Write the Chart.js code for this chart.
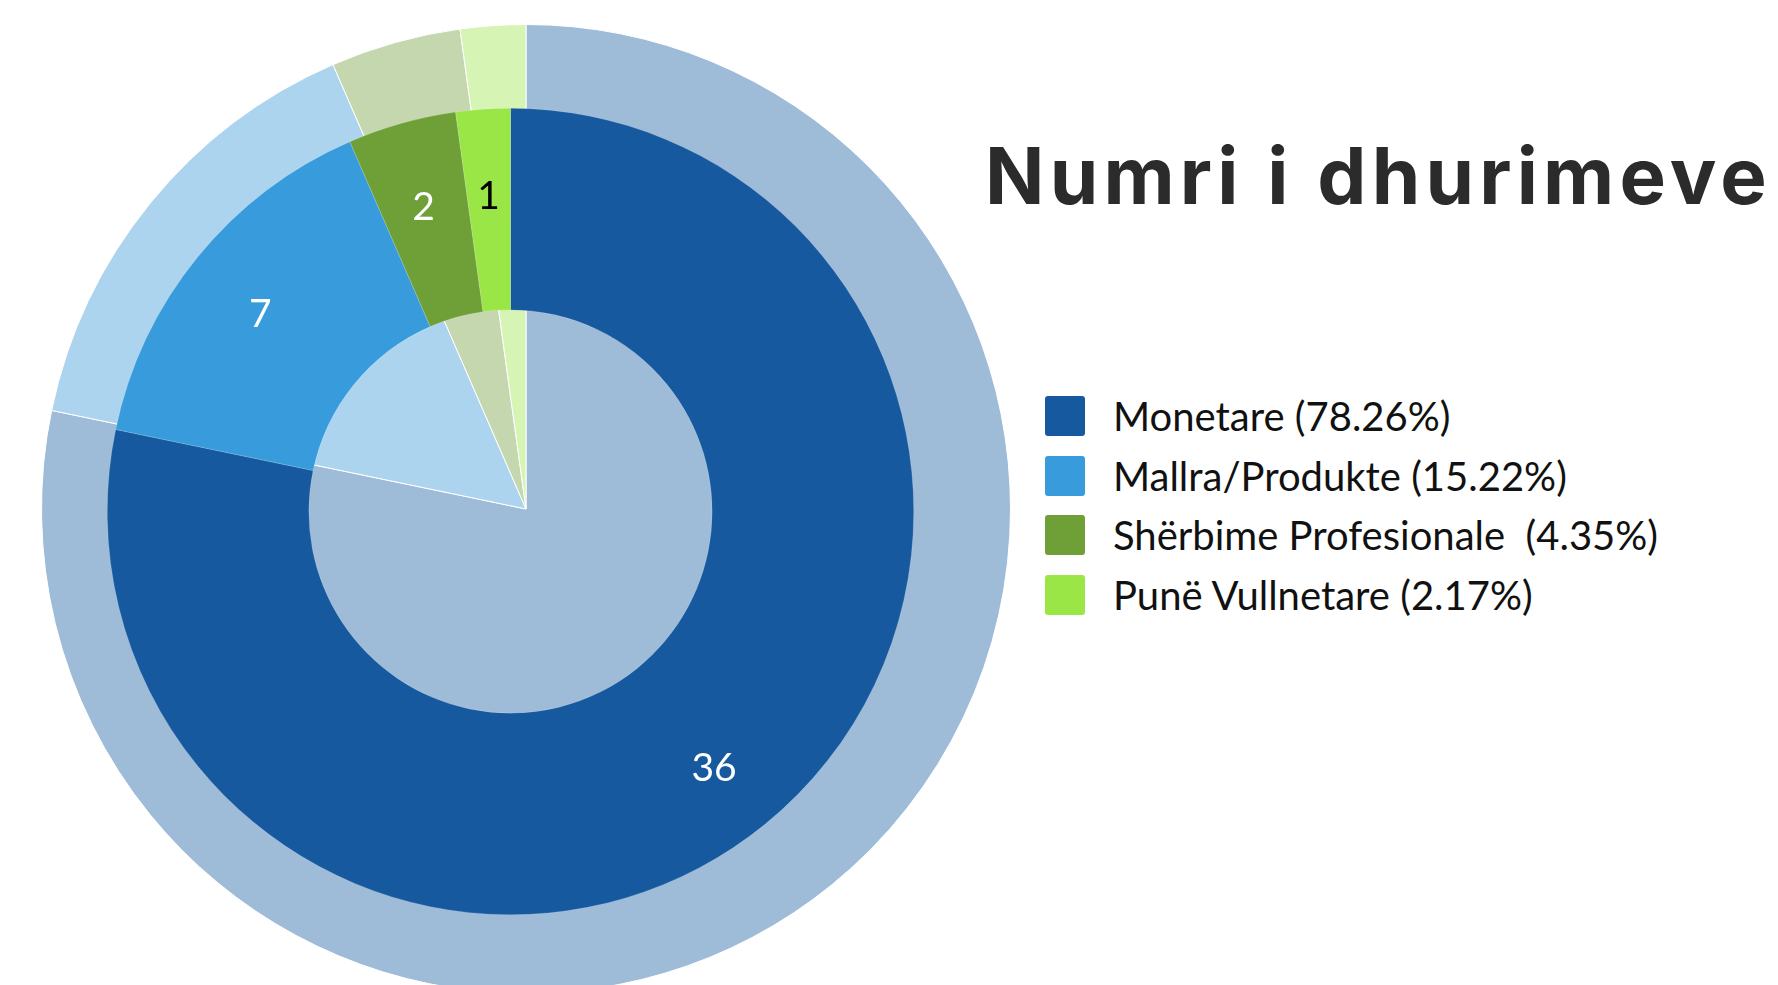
<!DOCTYPE html>
<html>
<head>
<meta charset="utf-8">
<script src="https://cdn.jsdelivr.net/npm/chart.js@4.4.1/dist/chart.umd.min.js"></script>
<style>
  html, body { margin: 0; padding: 0; width: 1778px; height: 985px; overflow: hidden; background: #fff; }
  #bgPie { position: absolute; left: 41px; top: 24px; }
  #mainDonut { position: absolute; left: 107px; top: 108px; }
  .title {
    position: absolute; left: 985px; top: 128px;
    font-family: Inter, 'Open Sans', sans-serif; font-weight: 700; font-size: 78px;
    line-height: 96px; color: #2b2b2b; white-space: pre; letter-spacing: 5.2px;
  }
  .legend { position: absolute; left: 1045px; top: 396px; font-family: Lato, sans-serif; }
  .legend-row { height: 59.7px; position: relative; }
  .legend-box { position: absolute; left: 0; top: 0; width: 40px; height: 40px; border-radius: 3px; }
  .legend-text {
    position: absolute; left: 68px; top: -5px; font-size: 40px; line-height: 50px;
    color: #111; white-space: pre;
  }
</style>
</head>
<body>
<canvas id="bgPie" width="970" height="970"></canvas>
<canvas id="mainDonut" width="807" height="807"></canvas>
<div class="title">Numri i dhurimeve</div>
<div class="legend" id="legend"></div>
<script>
const categories = ['Monetare', 'Mallra/Produkte', 'Shërbime Profesionale ', 'Punë Vullnetare'];
const donationCounts = [36, 7, 2, 1];
const sliceColors = ['#16599f', '#389bdb', '#6ea037', '#9ae646'];
const paleColors = ['#9ebbd8', '#add4ee', '#c4d7af', '#d6f4b4'];
const valueLabelColors = ['#ffffff', '#ffffff', '#ffffff', '#000000'];

const total = donationCounts.reduce((a, b) => a + b, 0);

const sliceValueLabels = {
  id: 'sliceValueLabels',
  afterDatasetsDraw(chart) {
    const ctx = chart.ctx;
    const meta = chart.getDatasetMeta(0);
    ctx.save();
    ctx.font = '39px Lato, sans-serif';
    ctx.textAlign = 'center';
    ctx.textBaseline = 'middle';
    meta.data.forEach((arc, i) => {
      const p = arc.getProps(['x', 'y', 'startAngle', 'endAngle', 'innerRadius', 'outerRadius'], true);
      const mid = (p.startAngle + p.endAngle) / 2;
      const r = p.innerRadius + (p.outerRadius - p.innerRadius) * 0.6;
      ctx.fillStyle = valueLabelColors[i];
      ctx.fillText(String(donationCounts[i]), p.x + Math.cos(mid) * r, p.y + Math.sin(mid) * r + 7);
    });
    ctx.restore();
  }
};

const baseOptions = {
  responsive: false,
  animation: false,
  events: [],
  layout: { padding: 0 },
  plugins: { legend: { display: false }, tooltip: { enabled: false }, title: { display: false } },
};

new Chart(document.getElementById('bgPie'), {
  type: 'pie',
  data: {
    labels: categories,
    datasets: [{ data: donationCounts, backgroundColor: paleColors, borderColor: '#ffffff', borderWidth: 1 }],
  },
  options: baseOptions,
});

new Chart(document.getElementById('mainDonut'), {
  type: 'doughnut',
  data: {
    labels: categories,
    datasets: [{ data: donationCounts, backgroundColor: sliceColors, borderColor: 'rgba(255,255,255,0.35)', borderWidth: 0.5 }],
  },
  options: Object.assign({}, baseOptions, { cutout: '50%' }),
  plugins: [sliceValueLabels],
});

const legend = document.getElementById('legend');
categories.forEach((name, i) => {
  const pct = (donationCounts[i] / total * 100).toFixed(2);
  const row = document.createElement('div');
  row.className = 'legend-row';
  row.innerHTML = `<div class="legend-box" style="background:${sliceColors[i]}"></div>` +
    `<div class="legend-text">${name} (${pct}%)</div>`;
  legend.appendChild(row);
});
</script>
</body>
</html>
